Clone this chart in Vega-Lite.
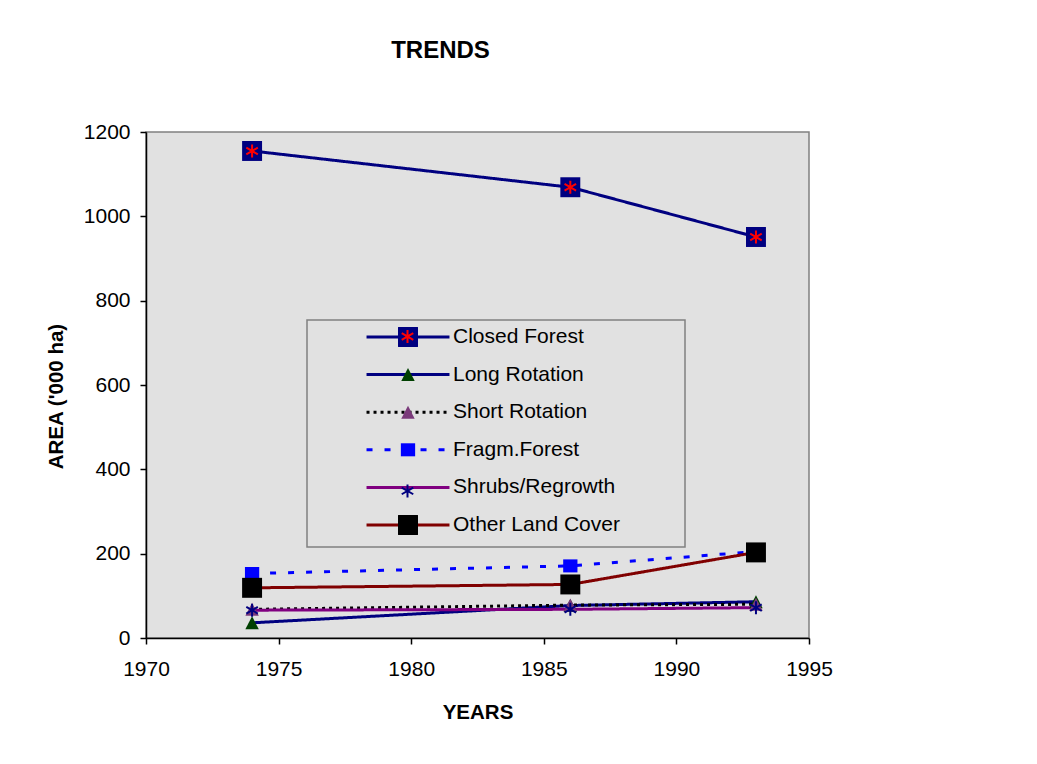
{
  "$schema": "https://vega.github.io/schema/vega-lite/v6.json",
  "autosize": "none",
  "width": 663,
  "height": 506,
  "padding": {"left": 146, "top": 132, "right": 228, "bottom": 126},
  "background": "#ffffff",
  "title": {
    "text": "TRENDS",
    "font": "Liberation Sans",
    "fontSize": 24,
    "fontWeight": "bold",
    "color": "#000000",
    "anchor": "middle",
    "frame": "group",
    "dx": -37,
    "baseline": "middle",
    "offset": 46
  },
  "data": {
    "values": [
      {"series": "Closed Forest", "year": 1974, "area": 1155},
      {"series": "Closed Forest", "year": 1986, "area": 1069},
      {"series": "Closed Forest", "year": 1993, "area": 951},
      {"series": "Long Rotation", "year": 1974, "area": 36},
      {"series": "Long Rotation", "year": 1986, "area": 77},
      {"series": "Long Rotation", "year": 1993, "area": 86},
      {"series": "Short Rotation", "year": 1974, "area": 68},
      {"series": "Short Rotation", "year": 1986, "area": 78},
      {"series": "Short Rotation", "year": 1993, "area": 80},
      {"series": "Fragm.Forest", "year": 1974, "area": 153},
      {"series": "Fragm.Forest", "year": 1986, "area": 171},
      {"series": "Fragm.Forest", "year": 1993, "area": 205},
      {"series": "Shrubs/Regrowth", "year": 1974, "area": 66},
      {"series": "Shrubs/Regrowth", "year": 1986, "area": 68},
      {"series": "Shrubs/Regrowth", "year": 1993, "area": 72},
      {"series": "Other Land Cover", "year": 1974, "area": 119},
      {"series": "Other Land Cover", "year": 1986, "area": 127},
      {"series": "Other Land Cover", "year": 1993, "area": 203}
    ]
  },
  "encoding": {
    "x": {
      "field": "year",
      "type": "quantitative",
      "scale": {"domain": [1970, 1995], "nice": false, "zero": false},
      "axis": {
        "title": "YEARS",
        "values": [1970, 1975, 1980, 1985, 1990, 1995],
        "format": "d",
        "grid": false,
        "labelFlush": false,
        "labelOverlap": false,
        "labelPadding": 14,
        "titleY": 74,
        "titleBaseline": "middle"
      }
    },
    "y": {
      "field": "area",
      "type": "quantitative",
      "scale": {"domain": [0, 1200], "nice": false},
      "axis": {
        "title": "AREA ('000 ha)",
        "values": [0, 200, 400, 600, 800, 1000, 1200],
        "format": "d",
        "grid": false,
        "labelPadding": 10,
        "titleX": -89.5,
        "titleY": 264,
        "titleBaseline": "middle"
      }
    }
  },
  "layer": [
    {
      "mark": {"type": "line", "strokeCap": "butt"},
      "encoding": {
        "stroke": {
          "field": "series", "type": "nominal",
          "scale": {
            "domain": ["Closed Forest", "Long Rotation", "Short Rotation", "Fragm.Forest", "Shrubs/Regrowth", "Other Land Cover"],
            "range": ["#000080", "#000080", "#000000", "#0000ff", "#800080", "#800000"]
          },
          "legend": {
            "title": null,
            "orient": "none", "legendX": 161, "legendY": 188, "padding": 5,
            "fillColor": "#e1e1e1", "strokeColor": "#808080",
            "symbolType": "M-3.95,0H3.95M0,-1M0,1", "symbolSize": 441, "symbolStrokeWidth": 3,
            "symbolOffset": 84, "labelOffset": 33, "rowPadding": 3.6,
            "labelFont": "Liberation Sans", "labelFontSize": 21, "labelColor": "#000000", "labelLimit": 400,
            "labelExpr": "datum.label + '\u2800\u2800\u2800\u2800'"
          }
        },
        "strokeDash": {
          "field": "series", "type": "nominal",
          "scale": {
            "domain": ["Closed Forest", "Long Rotation", "Short Rotation", "Fragm.Forest", "Shrubs/Regrowth", "Other Land Cover"],
            "range": [[1, 0], [1, 0], [3, 4], [6, 12], [1, 0], [1, 0]]
          },
          "legend": {
            "title": null,
            "orient": "none", "legendX": 161, "legendY": 188, "padding": 5,
            "fillColor": "#e1e1e1", "strokeColor": "#808080",
            "symbolType": "M-3.95,0H3.95M0,-1M0,1", "symbolSize": 441, "symbolStrokeWidth": 3,
            "symbolOffset": 84, "labelOffset": 33, "rowPadding": 3.6,
            "labelFont": "Liberation Sans", "labelFontSize": 21, "labelColor": "#000000", "labelLimit": 400,
            "labelExpr": "datum.label + '\u2800\u2800\u2800\u2800'"
          }
        }
      }
    },
    {
      "transform": [{"calculate": "'m' + datum.series", "as": "marker"}],
      "mark": {"type": "point", "filled": true, "opacity": 1, "size": 441},
      "encoding": {
        "shape": {
          "field": "marker", "type": "nominal",
          "scale": {
            "domain": ["mClosed Forest", "mLong Rotation", "mShort Rotation", "mFragm.Forest", "mShrubs/Regrowth", "mOther Land Cover"],
            "range": [
              "M-0.95,-0.95H0.95V0.95H-0.95ZM0,-1M0,1",
              "M0,-0.62L0.64,0.62H-0.64ZM0,-1M0,1",
              "M0,-0.62L0.64,0.62H-0.64ZM0,-1M0,1",
              "M-0.68,-0.62H0.68V0.62H-0.68ZM0,-1M0,1",
              "M-0.5,-0.5H0.5V0.5H-0.5ZM0,-1M0,1",
              "M-0.95,-0.95H0.95V0.95H-0.95ZM0,-1M0,1"
            ]
          },
          "legend": {
            "title": null, "orient": "none", "legendX": 161, "legendY": 188, "padding": 5,
            "symbolSize": 441, "symbolStrokeWidth": 3, "symbolStrokeColor": "transparent", "symbolOpacity": 1,
            "symbolOffset": 84, "labelOffset": 33, "rowPadding": 3.6,
            "labelFontSize": 0, "labelExpr": "''"
          }
        },
        "fill": {
          "field": "marker", "type": "nominal",
          "scale": {
            "domain": ["mClosed Forest", "mLong Rotation", "mShort Rotation", "mFragm.Forest", "mShrubs/Regrowth", "mOther Land Cover"],
            "range": ["#000080", "#004000", "#7a3a7a", "#0000ff", "transparent", "#000000"]
          },
          "legend": {
            "title": null, "orient": "none", "legendX": 161, "legendY": 188, "padding": 5,
            "symbolSize": 441, "symbolStrokeWidth": 3, "symbolStrokeColor": "transparent", "symbolOpacity": 1,
            "symbolOffset": 84, "labelOffset": 33, "rowPadding": 3.6,
            "labelFontSize": 0, "labelExpr": "''"
          }
        }
      }
    },
    {
      "transform": [{"calculate": "'s' + datum.series", "as": "star"}],
      "mark": {
        "type": "point", "filled": false, "opacity": 1, "size": 441, "strokeWidth": 2,
        "shape": "M0,-0.62V0.62M-0.55,-0.32L0.55,0.32M-0.55,0.32L0.55,-0.32M0,-1.1905M0,1.1905"
      },
      "encoding": {
        "color": {
          "field": "star", "type": "nominal",
          "scale": {
            "domain": ["sClosed Forest", "sLong Rotation", "sShort Rotation", "sFragm.Forest", "sShrubs/Regrowth", "sOther Land Cover"],
            "range": ["#ff0000", "transparent", "transparent", "transparent", "#000080", "transparent"]
          },
          "legend": {
            "title": null, "orient": "none", "legendX": 161, "legendY": 188, "padding": 5,
            "symbolType": "M0,-0.62V0.62M-0.55,-0.32L0.55,0.32M-0.55,0.32L0.55,-0.32M0,-1.1905M0,1.1905",
            "symbolSize": 441, "symbolStrokeWidth": 2, "symbolOpacity": 1, "symbolFillColor": "transparent",
            "symbolOffset": 84, "labelOffset": 33, "rowPadding": 3.6,
            "labelFontSize": 0, "labelExpr": "''"
          }
        }
      }
    }
  ],
  "config": {
    "view": {"fill": "#e1e1e1", "stroke": "#808080", "strokeWidth": 1.5},
    "legend": {"strokeWidth": 1.5},
    "line": {"strokeWidth": 3},
    "axis": {
      "labelFont": "Liberation Sans",
      "labelFontSize": 21,
      "labelColor": "#000000",
      "titleFont": "Liberation Sans",
      "titleFontSize": 20.5,
      "titleFontWeight": "bold",
      "titleColor": "#000000",
      "domainColor": "#000000",
      "domainWidth": 1.5,
      "tickColor": "#000000",
      "tickWidth": 1.5,
      "tickSize": 6
    }
  }
}
